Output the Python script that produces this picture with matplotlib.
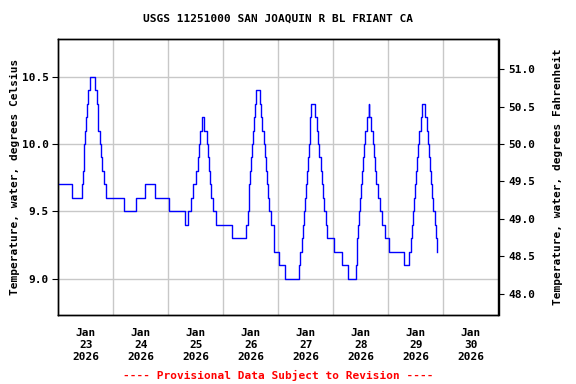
import matplotlib
matplotlib.use("Agg")
import matplotlib.pyplot as plt
import numpy as np

# Hours since Jan 23 2026 00:00 at which the reported value changes, and the value (deg C)
change_hours = [
    0.0, 5.8, 10.5, 10.8, 11.0, 11.3, 11.7, 12.1, 12.6, 13.0, 14.0,
    16.2, 16.9, 17.2, 17.5, 18.1, 18.6, 19.1, 20.1, 20.9,
    28.5, 34.0, 37.6, 42.0, 48.4, 55.4, 56.7,
    58.0, 58.9, 60.0, 60.8, 61.3, 61.9, 62.8,
    63.7, 64.7, 65.3, 65.7, 66.2, 66.6, 67.6, 68.8, 75.7,
    82.0, 82.6, 83.0, 83.3, 83.7, 84.1, 84.5, 84.8, 85.4, 85.9, 86.4,
    87.9, 88.5, 89.0, 89.6, 90.2, 90.6, 91.1, 91.6, 92.1, 92.6, 94.1, 96.3, 98.8,
    105.2, 105.6, 106.1, 106.6, 107.0, 107.5, 107.9, 108.4, 108.8, 109.2, 109.6, 110.0, 110.4,
    112.0, 112.8, 113.4, 113.9, 114.5, 114.9, 115.4, 116.0, 116.7, 117.2, 120.3, 123.7, 126.4,
    129.8, 130.2, 130.5, 130.9, 131.3, 131.8, 132.2, 132.6, 133.0, 133.5, 133.9, 134.6, 135.3,
    135.7, 136.5, 137.2, 137.8, 138.2, 138.7, 139.3, 140.2, 141.1, 142.4, 144.3, 150.6, 152.8,
    154.0, 154.3, 154.6, 155.0, 155.5, 156.0, 156.4, 156.8, 157.3, 158.1, 158.6,
    160.1, 160.8, 161.2, 161.6, 162.0, 162.5, 162.9, 163.4, 164.2, 164.7, 165.1,
]
temp_c = [
    9.7, 9.6, 9.7, 9.8, 9.9, 10.0, 10.1, 10.2, 10.3, 10.4, 10.5,
    10.4, 10.3, 10.2, 10.1, 10.0, 9.9, 9.8, 9.7, 9.6,
    9.5, 9.6, 9.7, 9.6, 9.5, 9.4, 9.5,
    9.6, 9.7, 9.8, 9.9, 10.0, 10.1, 10.2,
    10.1, 10.0, 9.9, 9.8, 9.7, 9.6, 9.5, 9.4, 9.3,
    9.4, 9.5, 9.6, 9.7, 9.8, 9.9, 10.0, 10.1, 10.2, 10.3, 10.4,
    10.3, 10.2, 10.1, 10.0, 9.9, 9.8, 9.7, 9.6, 9.5, 9.4, 9.2, 9.1, 9.0,
    9.1, 9.2, 9.3, 9.4, 9.5, 9.6, 9.7, 9.8, 9.9, 10.0, 10.1, 10.2, 10.3,
    10.2, 10.1, 10.0, 9.9, 9.8, 9.7, 9.6, 9.5, 9.4, 9.3, 9.2, 9.1, 9.0,
    9.1, 9.2, 9.3, 9.4, 9.5, 9.6, 9.7, 9.8, 9.9, 10.0, 10.1, 10.2, 10.3,
    10.2, 10.1, 10.0, 9.9, 9.8, 9.7, 9.6, 9.5, 9.4, 9.3, 9.2, 9.1, 9.2,
    9.3, 9.4, 9.5, 9.6, 9.7, 9.8, 9.9, 10.0, 10.1, 10.2, 10.3,
    10.2, 10.1, 10.0, 9.9, 9.8, 9.7, 9.6, 9.5, 9.4, 9.3, 9.2,
]

day_labels = ["Jan\n23\n2026", "Jan\n24\n2026", "Jan\n25\n2026", "Jan\n26\n2026",
              "Jan\n27\n2026", "Jan\n28\n2026", "Jan\n29\n2026", "Jan\n30\n2026"]
c_ticks = [9.0, 9.5, 10.0, 10.5]
f_ticks = [48.0, 48.5, 49.0, 49.5, 50.0, 50.5, 51.0]

title = "USGS 11251000 SAN JOAQUIN R BL FRIANT CA"
left_label = "Temperature, water, degrees Celsius"
right_label = "Temperature, water, degrees Fahrenheit"
footer = "---- Provisional Data Subject to Revision ----"

FONT = dict(family="DejaVu Sans Mono", weight="bold", size=8)

fig = plt.figure(figsize=(5.76, 3.84), dpi=100)
ax = fig.add_axes([58.3 / 576, 1 - 315 / 384, (498.5 - 58.3) / 576, (315 - 39) / 384])

ax.plot(change_hours, temp_c, drawstyle="steps-post", color="#0000ff", lw=1.0, zorder=3)

ymin, ymax = 8.733, 10.778
ax.set_ylim(ymin, ymax)
ax.set_xlim(0, 192)

# vertical grid at midnight, labels at noon
ax.set_xticks(np.arange(24, 192, 24), minor=False)
ax.set_xticklabels([])
ax.tick_params(axis="x", which="major", length=0)
ax.set_xticks(np.arange(12, 192, 24), minor=True)
ax.set_xticklabels(day_labels, minor=True, fontdict=FONT, linespacing=1.25)
ax.tick_params(axis="x", which="minor", length=0, pad=9)
ax.grid(True, axis="x", which="major", color="#c8c8c8", lw=1.0, zorder=0)

ax.set_yticks(c_ticks)
ax.set_yticklabels([f"{v:.1f}" for v in c_ticks], fontdict=FONT)
ax.tick_params(axis="y", direction="out", length=4, width=0.8, pad=3)
ax.grid(True, axis="y", color="#c8c8c8", lw=1.0, zorder=0)
ax.set_ylabel(left_label, fontdict=FONT, labelpad=1)

ax2 = ax.twinx()
ax2.set_ylim(ymin * 1.8 + 32, ymax * 1.8 + 32)
ax2.set_yticks(f_ticks)
ax2.set_yticklabels([f"{v:.1f}" for v in f_ticks], fontdict=FONT)
ax2.tick_params(axis="y", direction="out", length=4, width=0.8, pad=3)
ax2.set_ylabel(right_label, fontdict=FONT, rotation=90, labelpad=13)

for a in (ax, ax2):
    for s in a.spines.values():
        s.set_linewidth(1.0)
        s.set_color("black")

fig.text(278 / 576, 1 - 19 / 384, title, ha="center", va="center", **FONT)
fig.text(278 / 576, 1 - 375 / 384, footer, ha="center", va="center", color="#ff0000", **FONT)

fig.savefig("out.png", dpi=100)
